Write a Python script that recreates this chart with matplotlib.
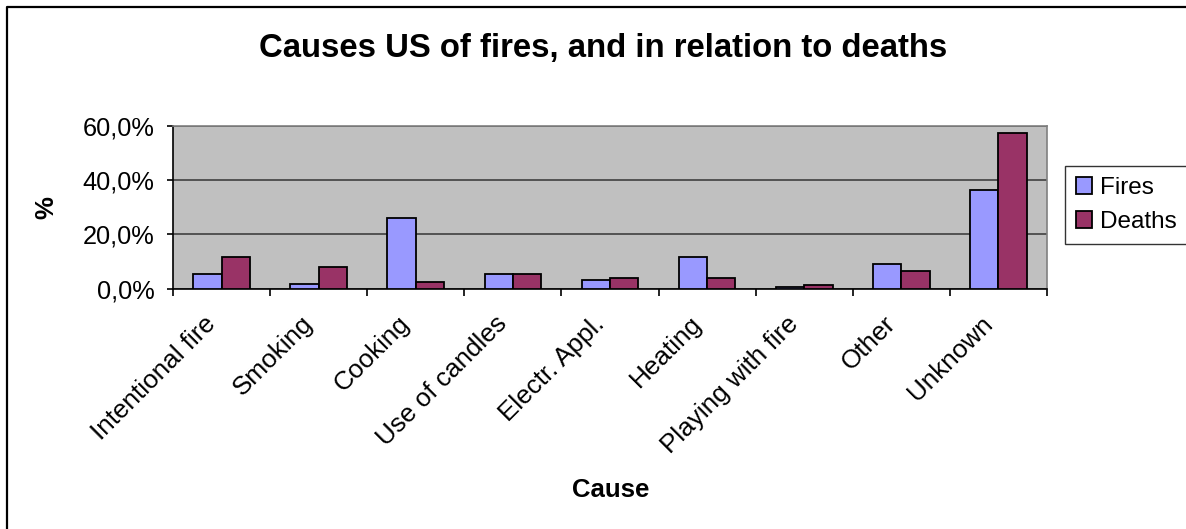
import numpy as np
import matplotlib
matplotlib.use("Agg")
import matplotlib.pyplot as plt
import matplotlib.transforms as mtransforms
from matplotlib.lines import Line2D
from matplotlib.ticker import FuncFormatter, FixedLocator

plt.rcParams['font.family'] = ['Liberation Sans', 'DejaVu Sans']

causes = ['Intentional fire', 'Smoking', 'Cooking', 'Use of candles', 'Electr. Appl.',
          'Heating', 'Playing with fire', 'Other', 'Unknown']
fires = [5.5, 1.8, 26.2, 5.4, 3.0, 11.7, 0.6, 9.1, 36.2]
deaths = [11.7, 8.0, 2.3, 5.4, 3.7, 3.7, 1.3, 6.6, 57.4]
yticks = [0, 20, 40, 60]

W, H = 1186, 529
fig = plt.figure(figsize=(W / 100, H / 100), dpi=100)
fig.patch.set_facecolor('white')

# outer chart frame: only the top and left edges are inside the picture
fx, fy = 6.5 / W, 1 - 6.5 / H
fig.add_artist(Line2D([fx, fx, 1.0], [0.0, fy, fy], transform=fig.transFigure,
                      color='black', linewidth=1.6))

ax = fig.add_axes([173 / W, 1 - 288.5 / H, (1047 - 173) / W, (288.5 - 126) / H])
ax.set_facecolor('#C0C0C0')

x = np.arange(len(causes))
bw = 0.292
ax.bar(x - bw / 2, fires, bw, color='#9999FF', edgecolor='black', linewidth=1.3, label='Fires', zorder=3)
ax.bar(x + bw / 2, deaths, bw, color='#993366', edgecolor='black', linewidth=1.3, label='Deaths', zorder=3)

ax.set_xlim(-0.5, len(causes) - 0.5)
ax.set_ylim(0, 60)

ax.yaxis.set_major_locator(FixedLocator(yticks))
ax.yaxis.set_major_formatter(FuncFormatter(lambda v, p: f"{v:.1f}%".replace('.', ',')))
ax.grid(axis='y', color='#404040', linewidth=1.2, zorder=1)

# tick marks sit on category borders
ax.set_xticks(np.arange(len(causes) + 1) - 0.5)
ax.set_xticklabels([])
ax.tick_params(axis='x', which='major', length=5, width=1.2, direction='out')
ax.tick_params(axis='y', length=4.5, width=1.2, direction='out', labelsize=18.3, pad=9)

# slanted category names, ending just left of each category centre
base = mtransforms.blended_transform_factory(ax.transData, ax.transAxes)
lab_tr = mtransforms.offset_copy(base, fig=fig, x=-18, y=-23, units='dots')
for xi, name in zip(x, causes):
    ax.text(xi, 0, name, transform=lab_tr, rotation=45, ha='right', va='top',
            rotation_mode='anchor', fontsize=18.8, clip_on=False)

for side in ['top', 'right']:
    ax.spines[side].set_color('#808080')
    ax.spines[side].set_linewidth(1.2)
for side in ['left', 'bottom']:
    ax.spines[side].set_color('black')
    ax.spines[side].set_linewidth(1.2)

fig.text(603 / W, 1 - 48 / H, 'Causes US of fires, and in relation to deaths',
         ha='center', va='center', fontsize=23.7, fontweight='bold')
fig.text(46 / W, 1 - 208 / H, '%', ha='center', va='center', rotation=90,
         fontsize=18.5, fontweight='bold')
fig.text(611 / W, 1 - 490 / H, 'Cause', ha='center', va='center',
         fontsize=18.5, fontweight='bold')

leg = ax.legend(loc='upper left', bbox_to_anchor=(1065 / W, 1 - 166 / H),
                bbox_transform=fig.transFigure, fontsize=17.5, frameon=True,
                fancybox=False, handlelength=0.65, handleheight=0.65,
                handletextpad=0.35, borderpad=0.45, labelspacing=0.5, borderaxespad=0)
leg.get_frame().set_edgecolor('black')
leg.get_frame().set_linewidth(1.0)

fig.savefig('out.png', dpi=100)
